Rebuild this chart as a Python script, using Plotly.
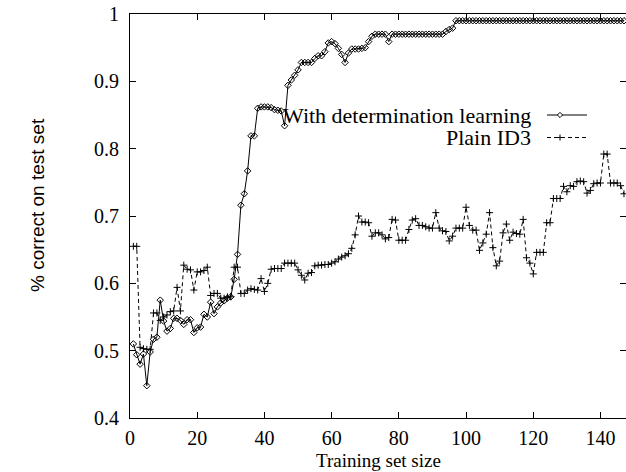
import plotly.graph_objects as go

x_det = list(range(1, 148))
det = [
    0.510, 0.494, 0.480, 0.495, 0.448, 0.498, 0.517, 0.520, 0.575, 0.544,
    0.529, 0.533, 0.548, 0.548, 0.545, 0.539, 0.546, 0.546, 0.527, 0.534,
    0.535, 0.554, 0.550, 0.572, 0.555, 0.565, 0.571, 0.574, 0.578, 0.580,
    0.606, 0.643, 0.716, 0.733, 0.767, 0.819, 0.819, 0.860, 0.862, 0.862,
    0.862, 0.861, 0.858, 0.857, 0.856, 0.834, 0.894, 0.902, 0.909, 0.917,
    0.928, 0.928, 0.928, 0.928, 0.934, 0.938, 0.938, 0.944, 0.957, 0.959,
    0.956, 0.949, 0.940, 0.928, 0.942, 0.948, 0.948, 0.948, 0.949, 0.950,
    0.959, 0.967, 0.970, 0.970, 0.970, 0.970, 0.959, 0.970, 0.970, 0.970,
    0.970, 0.970, 0.970, 0.970, 0.970, 0.970, 0.970, 0.970, 0.970, 0.970,
    0.970, 0.970, 0.970, 0.974, 0.977, 0.979,
] + [0.990] * 51

x_id3 = list(range(1, 148))
id3 = [
    0.655, 0.655, 0.505, 0.503, 0.502, 0.502, 0.556, 0.556, 0.545, 0.550,
    0.553, 0.558, 0.559, 0.594, 0.559, 0.627, 0.621, 0.620, 0.590, 0.617,
    0.617, 0.619, 0.624, 0.582, 0.585, 0.585, 0.578, 0.578, 0.580, 0.580,
    0.624, 0.624, 0.585, 0.585, 0.590, 0.592, 0.591, 0.590, 0.607, 0.588,
    0.600, 0.621, 0.622, 0.622, 0.622, 0.630, 0.630, 0.630, 0.630, 0.620,
    0.612, 0.605, 0.615, 0.616, 0.626, 0.627, 0.627, 0.628, 0.628, 0.630,
    0.632, 0.636, 0.639, 0.641, 0.644, 0.652, 0.672, 0.700, 0.691, 0.691,
    0.690, 0.670, 0.675, 0.675, 0.672, 0.666, 0.668, 0.695, 0.694, 0.664,
    0.664, 0.664, 0.680, 0.694, 0.696, 0.686, 0.686, 0.684, 0.682, 0.682,
    0.705, 0.682, 0.678, 0.677, 0.663, 0.670, 0.682, 0.682, 0.682, 0.713,
    0.686, 0.679, 0.679, 0.649, 0.660, 0.673, 0.705, 0.653, 0.626, 0.633,
    0.675, 0.688, 0.664, 0.676, 0.674, 0.673, 0.695, 0.638, 0.630, 0.614,
    0.646, 0.646, 0.646, 0.690, 0.690, 0.726, 0.726, 0.726, 0.744, 0.736,
    0.745, 0.744, 0.751, 0.752, 0.751, 0.734, 0.738, 0.748, 0.749, 0.749,
    0.792, 0.792, 0.749, 0.749, 0.749, 0.745, 0.733,
]

x_ticks = [0, 20, 40, 60, 80, 100, 120, 140]
y_ticks = [0.4, 0.5, 0.6, 0.7, 0.8, 0.9, 1.0]
y_tick_text = ["0.4", "0.5", "0.6", "0.7", "0.8", "0.9", "1"]
legend_names = ["With determination learning", "Plain ID3"]

SERIF = "Liberation Serif"

fig = go.Figure()
fig.add_trace(go.Scatter(
    x=x_det, y=det, mode="lines+markers", name=legend_names[0],
    line=dict(color="black", width=1),
    marker=dict(symbol="diamond-open", size=5, color="black", line=dict(width=1, color="black")),
))
fig.add_trace(go.Scatter(
    x=x_id3, y=id3, mode="lines+markers", name=legend_names[1],
    line=dict(color="black", width=1, dash="4px,3px"),
    marker=dict(symbol="cross-thin-open", size=5, color="black", line=dict(width=1, color="black")),
))

# plot area: x 130..626, y 14..418
W, H = 626, 472
L, R, T, B = 130, 0, 14, 54
pw, ph = W - L - R, H - T - B

def px2paper(px):
    return (px - L) / pw

def py2paper(py):
    return (H - B - py) / ph

# gnuplot-style key (text then sample on the right)
shapes = []
annotations = []
for i, (name, ypix) in enumerate(zip(legend_names, [115, 137.5])):
    yp = py2paper(ypix)
    annotations.append(dict(
        x=px2paper(533), y=yp, xref="paper", yref="paper", text=name,
        showarrow=False, xanchor="right", yanchor="middle",
        font=dict(family=SERIF, size=22, color="black"),
    ))
    shapes.append(dict(
        type="line", xref="paper", yref="paper",
        x0=px2paper(547), x1=px2paper(587), y0=yp, y1=yp,
        line=dict(color="black", width=1, dash="solid" if i == 0 else "4px,3px"),
    ))

# legend sample markers
cx, r = px2paper(560), 2.6
d_y = py2paper(115)
shapes.append(dict(
    type="path", xref="paper", yref="paper",
    path=f"M {px2paper(560-r)} {d_y} L {cx} {py2paper(115-r)} L {px2paper(560+r)} {d_y} L {cx} {py2paper(115+r)} Z",
    line=dict(color="black", width=1), fillcolor="white",
))
p_y = py2paper(137.5)
shapes.append(dict(type="line", xref="paper", yref="paper",
                   x0=px2paper(557), x1=px2paper(563), y0=p_y, y1=p_y,
                   line=dict(color="black", width=1)))
shapes.append(dict(type="line", xref="paper", yref="paper",
                   x0=cx, x1=cx, y0=py2paper(134.5), y1=py2paper(140.5),
                   line=dict(color="black", width=1)))

annotations.append(dict(
    x=px2paper(37), y=py2paper(205), xref="paper", yref="paper",
    text="% correct on test set", textangle=-90, showarrow=False,
    xanchor="center", yanchor="middle",
    font=dict(family="Liberation Sans", size=19, color="black"),
))
annotations.append(dict(
    x=px2paper(378), y=py2paper(460), xref="paper", yref="paper",
    text="Training set size", showarrow=False,
    xanchor="center", yanchor="middle",
    font=dict(family=SERIF, size=19, color="black"),
))

fig.update_layout(
    width=W, height=H,
    margin=dict(l=L, r=R, t=T, b=B, pad=0),
    paper_bgcolor="white", plot_bgcolor="white",
    showlegend=False,
    shapes=shapes, annotations=annotations,
    font=dict(family=SERIF, size=20, color="black"),
)
fig.update_xaxes(
    range=[0, 147.6], tickvals=x_ticks, ticks="inside", ticklen=6, tickwidth=1,
    tickcolor="black", showline=True, linecolor="black", linewidth=1,
    mirror="ticks", showgrid=False, zeroline=False,
    tickfont=dict(family=SERIF, size=20), ticklabelstandoff=2,
)
fig.update_yaxes(
    range=[0.4, 1.0], tickvals=y_ticks, ticktext=y_tick_text, ticks="inside",
    ticklen=6, tickwidth=1, tickcolor="black", showline=True, linecolor="black",
    linewidth=1, mirror="ticks", showgrid=False, zeroline=False,
    tickfont=dict(family=SERIF, size=20), ticklabelstandoff=6,
)

fig.write_html(
    "out.html",
    config={"displayModeBar": False},
    post_script="document.body.style.margin='0';document.body.style.overflow='hidden';",
)
